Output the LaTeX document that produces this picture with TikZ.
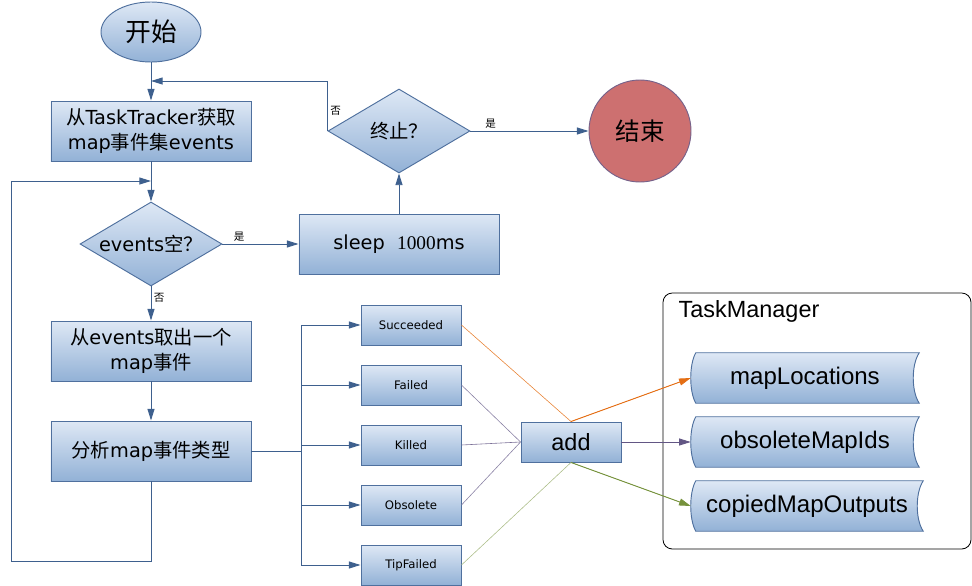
\documentclass[tikz,border=0pt]{standalone}
\usepackage{fontspec}
\setmainfont{DejaVu Sans}
\newfontfamily\cjk{Noto Sans CJK SC}
\newfontfamily\arialfont{Liberation Sans}
\newfontfamily\timesfont{Liberation Serif}
\usepackage{tikz}
\usetikzlibrary{shapes.geometric,arrows.meta,calc,backgrounds}
\definecolor{flowblue}{RGB}{62,96,142}
\definecolor{boxline}{RGB}{79,112,158}
\definecolor{gradtop}{RGB}{222,232,245}
\definecolor{gradbot}{RGB}{146,177,214}
\definecolor{endred}{RGB}{205,112,112}
\definecolor{endline}{RGB}{118,98,138}
\definecolor{feedorange}{RGB}{228,110,20}
\definecolor{feedpurple}{RGB}{98,86,132}
\definecolor{feedgreen}{RGB}{118,146,60}
\newcommand{\zh}[1]{{\cjk #1}}
% stored-data outline round a node
\newcommand{\storeshape}[1]{%
  \begin{pgfonlayer}{background}
  \draw[storefill] ($(#1.north west)+(5,0)$) -- (#1.north east)
    .. controls ($(#1.north east)+(-8,12)$) and ($(#1.south east)+(-8,-12)$) .. (#1.south east)
    -- ($(#1.south west)+(5,0)$)
    .. controls ($(#1.south west)+(-1.7,-12)$) and ($(#1.north west)+(-1.7,12)$) .. cycle;
  \end{pgfonlayer}}

\begin{document}
\begin{tikzpicture}[
    x=0.03cm, y=-0.03cm,
    stepbox/.style={rectangle, draw=boxline, line width=0.8pt, top color=gradtop, bottom color=gradbot, minimum width=6cm, minimum height=1.8cm, inner sep=0pt, align=center, font=\fontsize{16.5}{21}\selectfont},
    decision/.style={diamond, draw=boxline, line width=0.8pt, top color=gradtop, bottom color=gradbot, aspect=1.69, minimum width=4.26cm, minimum height=2.52cm, inner sep=0pt, font=\fontsize{16.5}{21}\selectfont},
    startnode/.style={ellipse, draw=boxline, line width=0.8pt, top color=gradtop, bottom color=gradbot, minimum width=3cm, minimum height=1.8cm, inner sep=0pt, font=\cjk\fontsize{22}{26}\selectfont},
    endnode/.style={circle, draw=endline, line width=0.8pt, fill=endred, minimum size=3.06cm, inner sep=0pt, font=\cjk\fontsize{21}{25}\selectfont},
    typebox/.style={rectangle, draw=boxline, line width=0.8pt, top color=gradtop, bottom color=gradbot, minimum width=3cm, minimum height=1.2cm, inner sep=0pt, font=\fontsize{10}{12}\selectfont},
    addbox/.style={typebox, font=\arialfont\fontsize{20}{23}\selectfont},
    store/.style={rectangle, minimum height=1.5cm, inner sep=0pt, font=\arialfont\fontsize{20.5}{24}\selectfont},
    storefill/.style={draw=boxline, line width=0.8pt, top color=gradtop, bottom color=gradbot},
    yesno/.style={font=\cjk\fontsize{9}{10}\selectfont, inner sep=2pt},
    flowline/.style={draw=flowblue, line width=0.8pt},
    flow/.style={flowline, -{Triangle[length=10pt, width=6pt]}},
    feed/.style={line width=0.5pt}
]
\useasboundingbox (0,0) rectangle (972,586);

% main flow
\node[startnode] (start) at (151,32) {开始};
\node[stepbox] (fetch) at (151,131) {\zh{从}TaskTracker\zh{获取}\\map\zh{事件集}events};
\node[decision] (empty) at (151,244) {events\zh{空？}};
\node[stepbox] (sleep) at (399,244) {sleep\ \ {\timesfont 1000}ms};
\node[decision] (stop) at (399,131) {\zh{终止？}};
\node[endnode] (finish) at (640,131) {结束};
\node[stepbox] (take) at (151,351) {\zh{从}events\zh{取出一个}\\map\zh{事件}};
\node[stepbox] (parse) at (151,451) {\zh{分析}map\zh{事件类型}};

% event types
\foreach \name/\kind [count=\i] in {succ/Succeeded, fail/Failed, kill/Killed, obso/Obsolete, tipf/TipFailed}
  \node[typebox] (\name) at (411,265+60*\i) {\kind};
\node[addbox] (add) at (571,442) {add};

% TaskManager
\node[draw, rounded corners=8pt, line width=0.7pt, minimum width=9.24cm, minimum height=7.68cm] (tm) at (817,421) {};
\node[font=\arialfont\fontsize{20}{23}\selectfont] (tmlabel) at (749,311) {TaskManager};
\node[store, minimum width=6.84cm] (mloc) at (805,378) {mapLocations};
\node[store, minimum width=6.84cm] (oids) at (805,442) {obsoleteMapIds};
\node[store, minimum width=6.96cm] (cout) at (807,506) {copiedMapOutputs};
\storeshape{mloc}
\storeshape{oids}
\storeshape{cout}

\coordinate (rejoin) at (151,81);
\coordinate (loopin) at (151,181);
\coordinate (fork) at (301,451);

\draw[flow] (start) -- (fetch);
\draw[flow] (fetch) -- (empty);
\draw[flow] (empty) -- node[yesno, above, pos=0.22] {是} (sleep);
\draw[flow] (empty) -- node[yesno, right, pos=0.34] {否} (take);
\draw[flow] (sleep) -- (stop);
\draw[flow] (stop) -- node[yesno, above, pos=0.17] {是} (finish);
\draw[flow] (stop.west) |- node[yesno, right, pos=0.2] {否} (rejoin);
\draw[flow] (take) -- (parse);
\draw[flow] (parse.south) -- ++(0,80) -| (11,181) -- (loopin);

% branches
\draw[flowline] (parse.east) -- (fork);
\draw[flowline] (fork |- succ) -- (fork |- tipf);
\foreach \name in {succ, fail, kill, obso, tipf}
  \draw[flow] (fork |- \name) -- (\name);

\draw[feed, feedorange!85] (succ.east) -- (add.north);
\draw[feed, feedpurple!75] (fail.east) -- (add.west);
\draw[feed, feedpurple!85] (kill.east) -- (add.west);
\draw[feed, feedpurple!75] (obso.east) -- (add.west);
\draw[feed, feedgreen!60] (tipf.east) -- (add.south);

\draw[flow, draw=feedorange, fill=feedorange] (add.north) -- (mloc.west);
\draw[flow, draw=feedpurple, fill=feedpurple] (add.east) -- (oids.west);
\draw[flow, draw=feedgreen, fill=feedgreen] (add.south) -- (cout.west);
\end{tikzpicture}
\end{document}
